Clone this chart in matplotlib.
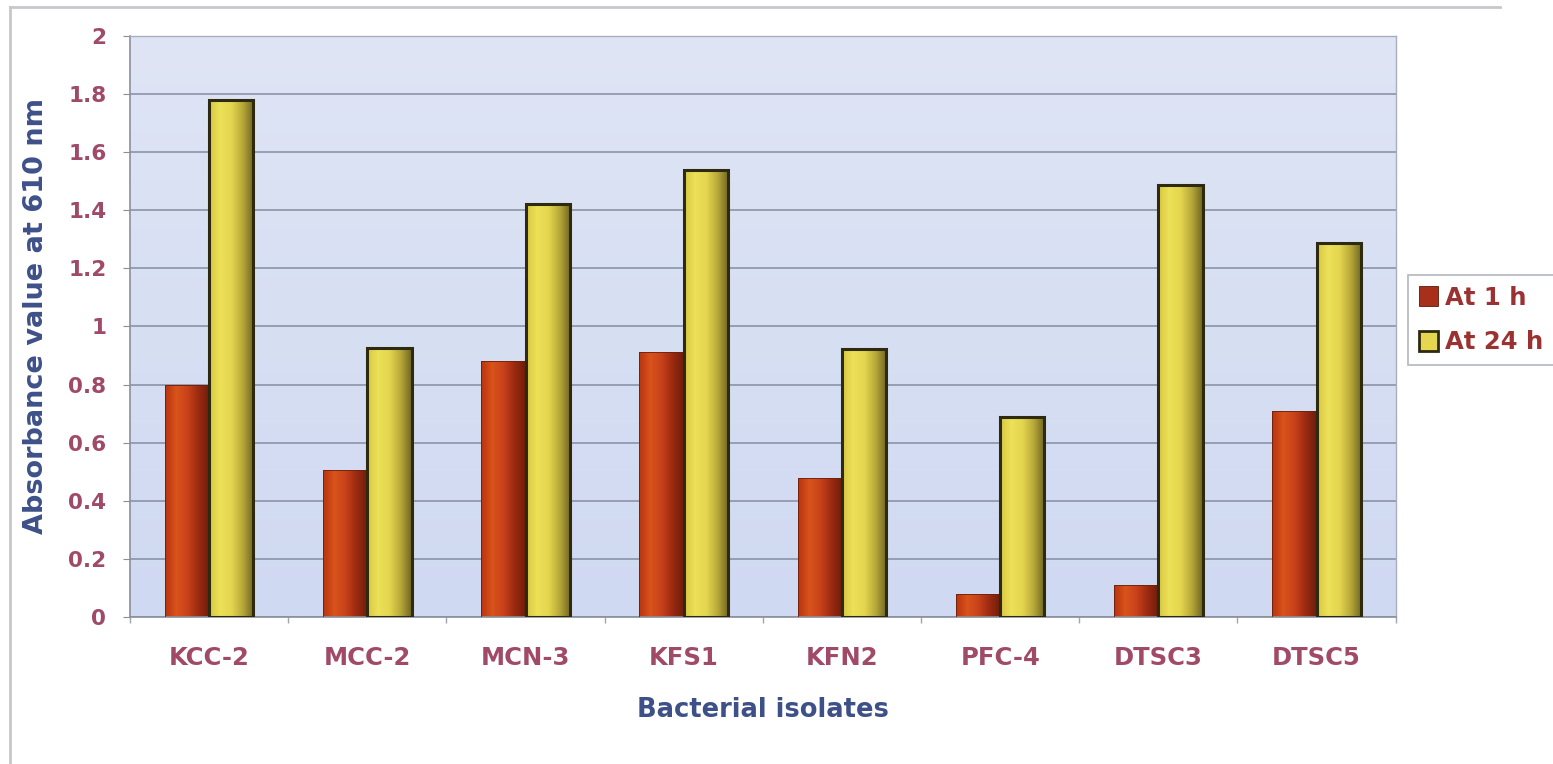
import numpy as np
import matplotlib
matplotlib.use("Agg")
import matplotlib.pyplot as plt
from matplotlib.colors import LinearSegmentedColormap
from matplotlib.lines import Line2D

categories = ["KCC-2", "MCC-2", "MCN-3", "KFS1", "KFN2", "PFC-4", "DTSC3", "DTSC5"]
at_1h = [0.80, 0.505, 0.88, 0.912, 0.48, 0.08, 0.11, 0.71]
at_24h = [1.78, 0.925, 1.42, 1.54, 0.922, 0.688, 1.487, 1.287]
series_names = ["At 1 h", "At 24 h"]
y_ticks = [0, 0.2, 0.4, 0.6, 0.8, 1, 1.2, 1.4, 1.6, 1.8, 2]
y_ticklabels = ["0", "0.2", "0.4", "0.6", "0.8", "1", "1.2", "1.4", "1.6", "1.8", "2"]

plt.rcParams["font.family"] = ["DejaVu Sans"]

fig = plt.figure(figsize=(15.53, 7.64), dpi=100)
fig.patch.set_facecolor("white")
ax = fig.add_axes([0.0837, 0.1924, 0.815, 0.7605])

# plot area background (soft vertical gradient)
bg = LinearSegmentedColormap.from_list("bg", ["#cfd9f1", "#dfe5f5"])
ax.imshow(np.linspace(0, 1, 256).reshape(-1, 1), cmap=bg, aspect="auto",
          extent=[-0.5, len(categories) - 0.5, 0, 2], zorder=0, origin="lower")

x = np.arange(len(categories))
w = 0.28

red_cmap = LinearSegmentedColormap.from_list(
    "red", ["#b8320f", "#d9531c", "#c8421a", "#9a2a10", "#6e1d0c"])
yel_cmap = LinearSegmentedColormap.from_list(
    "yel", ["#d8c640", "#ece158", "#e4d64e", "#b8a83a", "#6e6422"])

bars1 = ax.bar(x - w / 2, at_1h, w, color="none", edgecolor="#6a200c",
               linewidth=0.6, zorder=3)
bars2 = ax.bar(x + w / 2, at_24h, w, color="none", edgecolor="#2e2a10",
               linewidth=2.2, zorder=3)

grad = np.linspace(0, 1, 256).reshape(1, -1)
for bars, cmap in ((bars1, red_cmap), (bars2, yel_cmap)):
    for b in bars:
        x0, y0 = b.get_x(), b.get_y()
        im = ax.imshow(grad, cmap=cmap, aspect="auto",
                       extent=[x0, x0 + b.get_width(), y0, y0 + b.get_height()],
                       zorder=2.5)
        im.set_clip_path(b)

ax.set_xlim(-0.5, len(categories) - 0.5)
ax.set_ylim(0, 2)
ax.set_yticks(y_ticks)
ax.set_yticklabels(y_ticklabels)
ax.set_xticks(x)
ax.set_xticklabels(categories)
ax.set_xticks(np.arange(len(categories) + 1) - 0.5, minor=True)
ax.yaxis.grid(True, color="#8a93a8", linewidth=1.2, zorder=1)
ax.set_axisbelow(True)

for s in ("top", "right"):
    ax.spines[s].set_color("#a8aebb")
    ax.spines[s].set_linewidth(1)
for s in ("left", "bottom"):
    ax.spines[s].set_color("#8a8f9a")
    ax.spines[s].set_linewidth(1.2)

tick_color = "#a04a68"
ax.tick_params(axis="y", colors="#8a8f9a", labelcolor=tick_color, labelsize=15.5,
               length=5, direction="out", pad=12)
ax.tick_params(axis="x", which="major", length=0, labelcolor=tick_color,
               labelsize=17.5, pad=21)
ax.tick_params(axis="x", which="minor", length=4, color="#a0a6b0", width=1)
for lbl in ax.get_xticklabels() + ax.get_yticklabels():
    lbl.set_fontweight("bold")

ax.set_ylabel("Absorbance value at 610 nm", fontsize=19.5, fontweight="bold",
              color="#3d5088")
ax.yaxis.set_label_coords(-0.064, 0.518)
ax.set_xlabel("Bacterial isolates", fontsize=18.5, fontweight="bold",
              color="#3d5088", labelpad=19)

leg = ax.legend([bars1[0], bars2[0]], series_names, loc="upper left",
                bbox_to_anchor=(1.0095, 0.589), frameon=True, fancybox=False,
                handlelength=0.8, handleheight=0.9,
                handletextpad=0.3, labelspacing=0.85, borderpad=0.45,
                borderaxespad=0,
                prop={"weight": "bold", "size": 17.5, "family": "DejaVu Sans"})
leg.get_frame().set_edgecolor("#a0a4ae")
leg.get_frame().set_linewidth(1.2)
leg.legend_handles[0].set_facecolor("#a8301a")
leg.legend_handles[0].set_edgecolor("#5a1a0a")
leg.legend_handles[1].set_facecolor("#e4d64e")
leg.legend_handles[1].set_edgecolor("#2e2a10")
leg.legend_handles[1].set_linewidth(2)
for t in leg.get_texts():
    t.set_color("#9b3232")

# outer chart frame
fig.add_artist(Line2D([10 / 1553, 10 / 1553], [0, 1 - 7 / 764],
                      transform=fig.transFigure, color="#c8c8cc", linewidth=2))
fig.add_artist(Line2D([10 / 1553, 1500 / 1553], [1 - 7 / 764, 1 - 7 / 764],
                      transform=fig.transFigure, color="#c8c8cc", linewidth=2))

fig.savefig("out.png", dpi=100, facecolor="white")
